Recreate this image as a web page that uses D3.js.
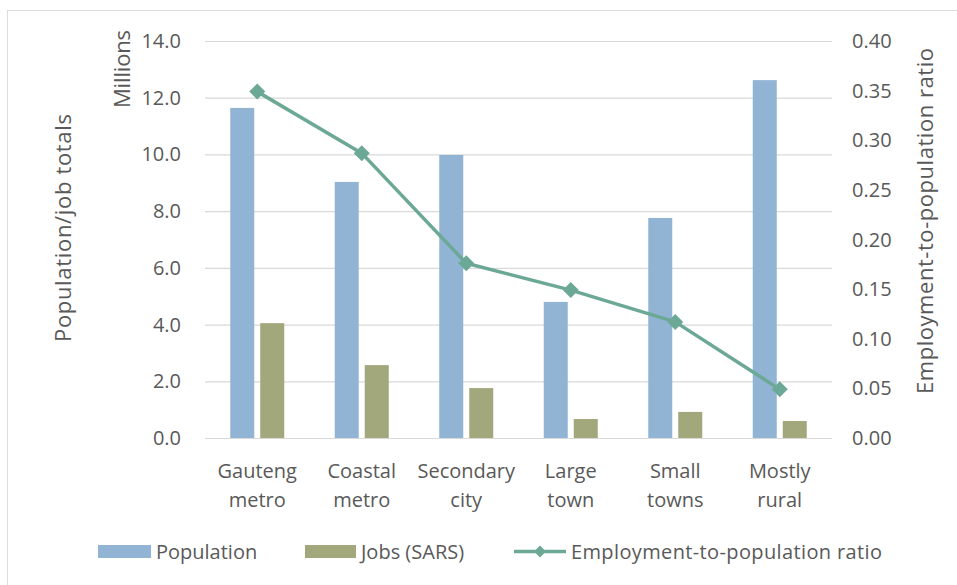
<!DOCTYPE html>
<html><head><meta charset="utf-8">
<script src="https://cdn.jsdelivr.net/npm/d3@7"></script>
<style>
html,body{margin:0;padding:0;background:#fff;}
svg{display:block;font-family:"Open Sans",sans-serif;}
</style></head>
<body>
<svg id="chart" width="957" height="585"></svg>
<script>
const categories = [["Gauteng","metro"],["Coastal","metro"],["Secondary","city"],["Large","town"],["Small","towns"],["Mostly","rural"]];
const population = [11.64, 9.03, 9.98, 4.8, 7.76, 12.62];
const jobs = [4.05, 2.57, 1.76, 0.67, 0.92, 0.6];
const ratio = [0.349, 0.287, 0.176, 0.149, 0.117, 0.049];
const leftTicks = [0,2,4,6,8,10,12,14];
const rightTicks = [0,0.05,0.10,0.15,0.20,0.25,0.30,0.35,0.40];
const seriesNames = ["Population","Jobs (SARS)","Employment-to-population ratio"];

const colPop = "#91b4d4", colJobs = "#a2a77c", colLine = "#6ca896", txt = "#595959", grid = "#d9d9d9";
const svg = d3.select("#chart");
svg.append("rect").attr("x",7.5).attr("y",10.5).attr("width",1200).attr("height",1200)
  .attr("fill","none").attr("stroke","#dcdcdc");

const L = 205, R = 832, T = 41, B = 438;
const idx = categories.map((d,i)=>i);
const x = d3.scaleBand().domain(idx).range([L,R]);
const yL = d3.scaleLinear().domain([0,14]).range([B,T]);
const yR = d3.scaleLinear().domain([0,0.40]).range([B,T]);

// gridlines
svg.append("g").selectAll("line").data(leftTicks).join("line")
  .attr("x1",L).attr("x2",R).attr("y1",d=>yL(d)+0.5).attr("y2",d=>yL(d)+0.5)
  .attr("stroke",grid).attr("stroke-width",1.2);

const fs = 20, fsT = 22;
svg.append("g").selectAll("text").data(leftTicks).join("text")
  .attr("x",181).attr("y",d=>yL(d)).attr("dy","0.35em").attr("text-anchor","end")
  .attr("font-size",fs).attr("fill",txt).text(d=>d3.format(".1f")(d));
svg.append("g").selectAll("text").data(rightTicks).join("text")
  .attr("x",852).attr("y",d=>yR(d)).attr("dy","0.35em").attr("text-anchor","start")
  .attr("font-size",fs).attr("fill",txt).text(d=>d3.format(".2f")(d));

// bars
const bw = 24, gap = 6;
svg.append("g").selectAll("rect").data(population).join("rect")
  .attr("x",(d,i)=>x(i)+x.bandwidth()/2-gap/2-bw).attr("width",bw)
  .attr("y",d=>yL(d)).attr("height",d=>B-yL(d)).attr("fill",colPop);
svg.append("g").selectAll("rect").data(jobs).join("rect")
  .attr("x",(d,i)=>x(i)+x.bandwidth()/2+gap/2).attr("width",bw)
  .attr("y",d=>yL(d)).attr("height",d=>B-yL(d)).attr("fill",colJobs);

// line
const line = d3.line().x((d,i)=>x(i)+x.bandwidth()/2).y(d=>yR(d));
svg.append("path").datum(ratio).attr("d",line).attr("fill","none")
  .attr("stroke",colLine).attr("stroke-width",3.5).attr("stroke-linejoin","round");
const diamond = (cx,cy,r)=>`M${cx},${cy-r}L${cx+r},${cy}L${cx},${cy+r}L${cx-r},${cy}Z`;
svg.append("g").selectAll("path").data(ratio).join("path")
  .attr("d",(d,i)=>diamond(x(i)+x.bandwidth()/2,yR(d),8)).attr("fill",colLine);

// x labels
const xl = svg.append("g").selectAll("text").data(categories).join("text")
  .attr("text-anchor","middle").attr("font-size",fs).attr("fill",txt);
xl.append("tspan").attr("x",(d,i)=>x(i)+x.bandwidth()/2).attr("y",478).text(d=>d[0]);
xl.append("tspan").attr("x",(d,i)=>x(i)+x.bandwidth()/2).attr("y",507).text(d=>d[1]);

// axis titles
svg.append("text").attr("transform","translate(130,69) rotate(-90)").attr("text-anchor","middle")
  .attr("font-size",fsT).attr("fill",txt).attr("textLength",78).attr("lengthAdjust","spacing").text("Millions");
svg.append("text").attr("transform","translate(71,228) rotate(-90)").attr("text-anchor","middle")
  .attr("font-size",fsT).attr("fill",txt).attr("textLength",228).attr("lengthAdjust","spacing").text("Population/job totals");
svg.append("text").attr("transform","translate(933,221) rotate(-90)").attr("text-anchor","middle")
  .attr("font-size",fsT).attr("fill",txt).attr("textLength",346).attr("lengthAdjust","spacing").text("Employment-to-population ratio");

// legend
const lg = svg.append("g");
lg.append("rect").attr("x",98).attr("y",545).attr("width",53).attr("height",13).attr("fill",colPop);
lg.append("text").attr("x",156).attr("y",551.5).attr("dy","0.35em").attr("font-size",fs).attr("fill",txt).text(seriesNames[0]);
lg.append("rect").attr("x",305).attr("y",545).attr("width",51).attr("height",13).attr("fill",colJobs);
lg.append("text").attr("x",361).attr("y",551.5).attr("dy","0.35em").attr("font-size",fs).attr("fill",txt).text(seriesNames[1]);
lg.append("line").attr("x1",514).attr("x2",566).attr("y1",551.5).attr("y2",551.5).attr("stroke",colLine).attr("stroke-width",3.5);
lg.append("path").attr("d",diamond(540,551.5,6)).attr("fill",colLine);
lg.append("text").attr("x",571).attr("y",551.5).attr("dy","0.35em").attr("font-size",fs).attr("fill",txt)
  .attr("textLength",311).attr("lengthAdjust","spacing").text(seriesNames[2]);
</script>
</body></html>
